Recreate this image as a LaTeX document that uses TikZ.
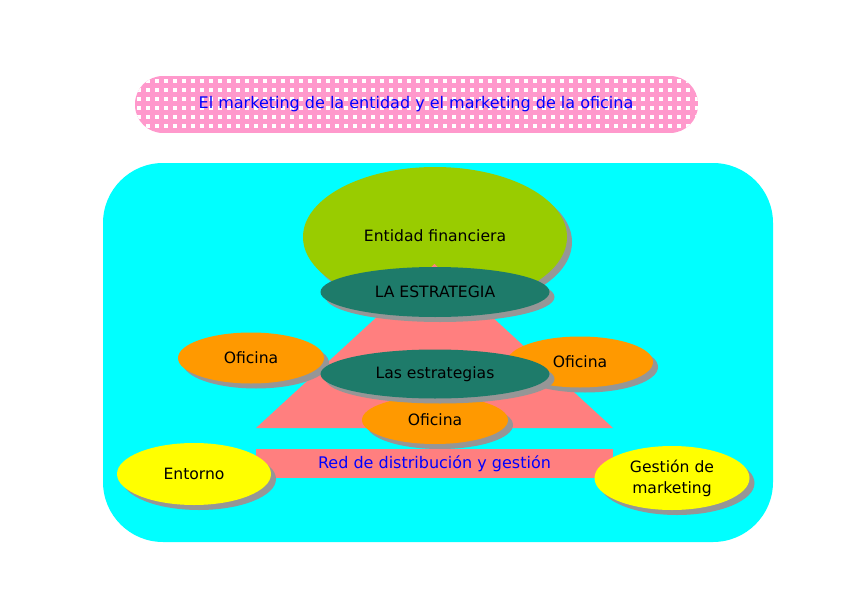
\documentclass[tikz,border=0pt]{standalone}
\usepackage{fontspec}
\setmainfont{DejaVu Sans}
\usetikzlibrary{shapes.geometric,shadows}
\definecolor{FigureCyan}{HTML}{00FFFF}
\definecolor{FigureGreen}{HTML}{99CC00}
\definecolor{FigureTeal}{HTML}{1E7B6A}
\definecolor{FigureOrange}{HTML}{FF9900}
\definecolor{FigureYellow}{HTML}{FFFF00}
\definecolor{FigureSalmon}{HTML}{FF7F7F}
\definecolor{FigurePink}{HTML}{FF99CC}
\definecolor{FigureShadow}{HTML}{969696}
\definecolor{FigureBlue}{HTML}{0000FF}

\begin{document}
\begin{tikzpicture}[x=1pt,y=-1pt,
    oval/.style={ellipse,inner sep=0pt,font=\fontsize{15.6}{18}\selectfont,
      drop shadow={shadow xshift=5pt,shadow yshift=-5pt,fill=FigureShadow,opacity=1}},
    oficina/.style={oval,fill=FigureOrange,minimum width=146pt,minimum height=51pt}]
  \useasboundingbox (0,0) rectangle (848,599);
  % title banner
  \begin{scope}
    \clip[rounded corners=28pt] (135,76) rectangle (698,133);
    \fill[FigurePink] (135,76) rectangle (698,133);
    \foreach \i in {0,...,62} \foreach \j in {0,...,6}
      \fill[white] (137+9*\i,79+9*\j) rectangle ++(3.6,3.6);
  \end{scope}
  \node[text=FigureBlue,font=\fontsize{16}{19}\selectfont] (title) at (416,104)
    {El marketing de la entidad y el marketing de la oficina};
  % panel
  \fill[FigureCyan,rounded corners=60pt] (103,163) rectangle (773,542);
  \node[oval,fill=FigureGreen,minimum width=264pt,minimum height=140pt] (entidad) at (435,237) {};
  \node at (435,236) {\fontsize{15.6}{18}\selectfont Entidad financiera};
  \coordinate (apex) at (434.5,264);
  \coordinate (baseL) at (256,428);
  \coordinate (baseR) at (613,428);
  \fill[FigureSalmon] (apex) -- (baseL) -- (baseR) -- cycle;
  \node[oval,fill=FigureTeal,minimum width=229pt,minimum height=50pt] (estrategia) at (435,292) {LA ESTRATEGIA};
  \node[oficina] (oficinaL) at (251,358) {Oficina};
  \node[oficina] (oficinaR) at (580,362) {Oficina};
  \node[oficina,minimum height=48pt] (oficinaB) at (435,420) {Oficina};
  \node[oval,fill=FigureTeal,minimum width=229pt,minimum height=49pt] (estrategias) at (435,374) {Las estrategias};
  \node[fill=FigureSalmon,minimum width=357pt,minimum height=29pt,inner sep=0pt,
    text=FigureBlue,font=\fontsize{16}{19}\selectfont] (red) at (434.5,463.5) {Red de distribución y gestión};
  \node[oval,fill=FigureYellow,minimum width=154pt,minimum height=62pt] (entorno) at (194,474) {Entorno};
  \node[oval,fill=FigureYellow,minimum width=155pt,minimum height=64pt,align=center,
    font=\fontsize{15.6}{21}\selectfont] (gestion) at (672,478) {Gestión de\\marketing};
\end{tikzpicture}
\end{document}
